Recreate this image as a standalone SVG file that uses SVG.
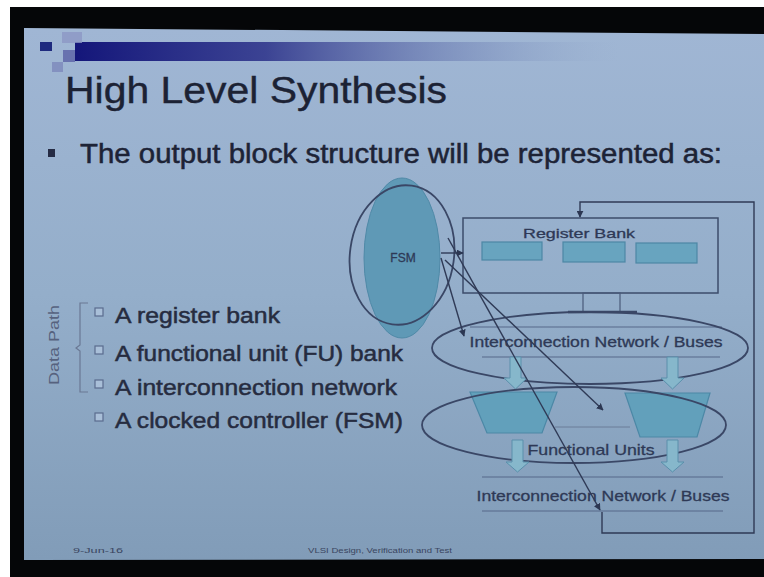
<svg xmlns="http://www.w3.org/2000/svg" width="764" height="577" viewBox="0 0 764 577">
<defs>
<linearGradient id="slide" x1="0" y1="0" x2="0" y2="1">
<stop offset="0" stop-color="#a0b6d4"/>
<stop offset="0.5" stop-color="#94aeca"/>
<stop offset="1" stop-color="#819cb8"/>
</linearGradient>
<linearGradient id="bar" x1="0" y1="0" x2="1" y2="0">
<stop offset="0" stop-color="#14167a" stop-opacity="1"/>
<stop offset="0.35" stop-color="#2a2f88" stop-opacity="0.85"/>
<stop offset="0.75" stop-color="#5a6aa8" stop-opacity="0.3"/>
<stop offset="1" stop-color="#8ea4c8" stop-opacity="0"/>
</linearGradient>
<marker id="ah" viewBox="0 0 10 10" refX="9" refY="5" markerWidth="5" markerHeight="5" orient="auto">
<path d="M0,0 L10,5 L0,10 z" fill="#2c3752"/>
</marker>
<style>
.t{font-family:"Liberation Sans",Arial,sans-serif;}
.ol{fill:none;stroke:#3a4766;stroke-width:1.8;}
.thin{fill:none;stroke:#56688a;stroke-width:1.2;}
.reg{fill:#68a4bf;stroke:#4d87a5;stroke-width:1.2;}
.fu{fill:#62a0bb;stroke:#4c88a6;stroke-width:1.2;}
.barrow{fill:#86b7cb;stroke:#5a8fab;stroke-width:1;}
.con{fill:none;stroke:#2f3a56;stroke-width:1.4;}
.lbl{fill:#2e3956;stroke:#2e3956;stroke-width:0.3;}
.item{fill:#262c40;stroke:#262c40;stroke-width:0.5;font-size:22px;}
.box{fill:#a9bfd8;stroke:#5a6c8e;stroke-width:1.2;}
</style>
</defs>
<rect x="0" y="0" width="764" height="577" fill="#ffffff"/>
<rect x="10" y="7" width="754" height="570" fill="#050608"/>
<polygon points="24,28 764,34 764,559 24,560" fill="url(#slide)"/>
<g id="title-decor">
<rect x="75" y="42" width="545" height="19" fill="url(#bar)"/>
<rect x="40" y="42" width="12" height="9" fill="#1e2a7e"/>
<rect x="62" y="32" width="20" height="11" fill="#8c97c4" opacity="0.8"/>
<rect x="63" y="50" width="12" height="12" fill="#5a62a6" opacity="0.8"/>
<rect x="52" y="62" width="11" height="10" fill="#7c88bc" opacity="0.8"/>
</g>
<text class="t" x="65" y="103" font-size="37" fill="#1c2234" stroke="#1c2234" stroke-width="0.4" textLength="382" lengthAdjust="spacingAndGlyphs">High Level Synthesis</text>
<rect x="48" y="149" width="7" height="8" fill="#252b44"/>
<text class="t" x="80" y="163" font-size="27" fill="#1d2336" stroke="#1d2336" stroke-width="0.5" textLength="642" lengthAdjust="spacingAndGlyphs">The output block structure will be represented as:</text>

<g id="list">
<text class="t" transform="translate(59,345) rotate(-90)" text-anchor="middle" font-size="14" fill="#56627e" textLength="80" lengthAdjust="spacingAndGlyphs">Data Path</text>
<path d="M88,303 H80 V345 L76,348 L80,351 V392 H88" fill="none" stroke="#6a7894" stroke-width="1.2"/>
<rect class="box" x="95" y="308" width="8" height="8"/>
<text class="t item" x="115" y="323" textLength="165" lengthAdjust="spacingAndGlyphs">A register bank</text>
<rect class="box" x="95" y="346" width="8" height="8"/>
<text class="t item" x="115" y="361" textLength="288" lengthAdjust="spacingAndGlyphs">A functional unit (FU) bank</text>
<rect class="box" x="95" y="380" width="8" height="8"/>
<text class="t item" x="115" y="395" textLength="282" lengthAdjust="spacingAndGlyphs">A interconnection network</text>
<rect class="box" x="95" y="413" width="8" height="8"/>
<text class="t item" x="115" y="428" textLength="288" lengthAdjust="spacingAndGlyphs">A clocked controller (FSM)</text>
</g>

<g id="fsm">
<ellipse cx="402" cy="258" rx="38" ry="80" fill="#5f99b6" stroke="#4f89a7" stroke-width="1"/>
<ellipse cx="402" cy="255" rx="52" ry="70" transform="rotate(8 402 255)" class="ol"/>
<text class="t lbl" x="403" y="262" font-size="12" text-anchor="middle">FSM</text>
</g>

<g id="register-bank">
<rect x="463" y="218" width="255" height="75" fill="none" stroke="#3d4c6b" stroke-width="1.5"/>
<text class="t lbl" x="579" y="238" font-size="13" text-anchor="middle" textLength="112" lengthAdjust="spacingAndGlyphs">Register Bank</text>
<rect class="reg" x="482" y="242" width="60" height="18"/>
<rect class="reg" x="563" y="242" width="62" height="20"/>
<rect class="reg" x="636" y="243" width="61" height="20"/>
<rect x="583" y="293" width="37" height="19" fill="none" stroke="#4a5a7a" stroke-width="1.2"/>
<line x1="568" y1="312" x2="637" y2="312" stroke="#3a4766" stroke-width="2.5"/>
</g>

<g id="interconnect-upper">
<line class="thin" x1="470" y1="327" x2="722" y2="327"/>
<text class="t lbl" x="596" y="347" font-size="14" text-anchor="middle" textLength="253" lengthAdjust="spacingAndGlyphs">Interconnection Network / Buses</text>
<line class="thin" x1="482" y1="357" x2="720" y2="357"/>
<ellipse cx="590" cy="348" rx="158" ry="36" class="ol"/>
</g>

<g id="functional-units">
<path class="barrow" d="M510,357 H521 V378 H527 L515.5,389 L504,378 H510 Z"/>
<path class="barrow" d="M667,357 H678 V378 H684 L672.5,389 L661,378 H667 Z"/>
<polygon class="fu" points="470,392 557,392 542,433 487,433"/>
<polygon class="fu" points="625,393 710,393 697,437 640,437"/>
<line x1="555" y1="427" x2="630" y2="427" stroke="#6a7c98" stroke-width="1"/>
<ellipse cx="574" cy="425" rx="152" ry="38" class="ol"/>
<text class="t lbl" x="591" y="455" font-size="15" text-anchor="middle" textLength="127" lengthAdjust="spacingAndGlyphs">Functional Units</text>
<path class="barrow" d="M512,440 H523 V462 H529 L517.5,472 L506,462 H512 Z"/>
<path class="barrow" d="M667,440 H678 V462 H684 L672.5,472 L661,462 H667 Z"/>
</g>

<g id="interconnect-lower">
<line class="thin" x1="482" y1="477" x2="723" y2="477"/>
<text class="t lbl" x="603" y="501" font-size="15" text-anchor="middle" textLength="253" lengthAdjust="spacingAndGlyphs">Interconnection Network / Buses</text>
<line class="thin" x1="482" y1="511" x2="723" y2="511"/>
</g>

<g id="connectors">
<path class="con" d="M602,512 V533 H754 V202 H580 V217" marker-end="url(#ah)"/>
<line class="con" x1="441" y1="253" x2="463" y2="253" marker-end="url(#ah)"/>
<line class="con" x1="441" y1="258" x2="464" y2="336" marker-end="url(#ah)"/>
<line class="con" x1="445" y1="260" x2="603" y2="410" marker-end="url(#ah)"/>
<line class="con" x1="448" y1="238" x2="600" y2="510" marker-end="url(#ah)"/>
</g>

<g id="footer">
<text class="t" x="73" y="553" font-size="8" fill="#3a4560" textLength="50" lengthAdjust="spacingAndGlyphs">9-Jun-16</text>
<text class="t" x="308" y="553" font-size="8" fill="#3a4560" textLength="144" lengthAdjust="spacingAndGlyphs">VLSI Design, Verification and Test</text>
</g>
</svg>
